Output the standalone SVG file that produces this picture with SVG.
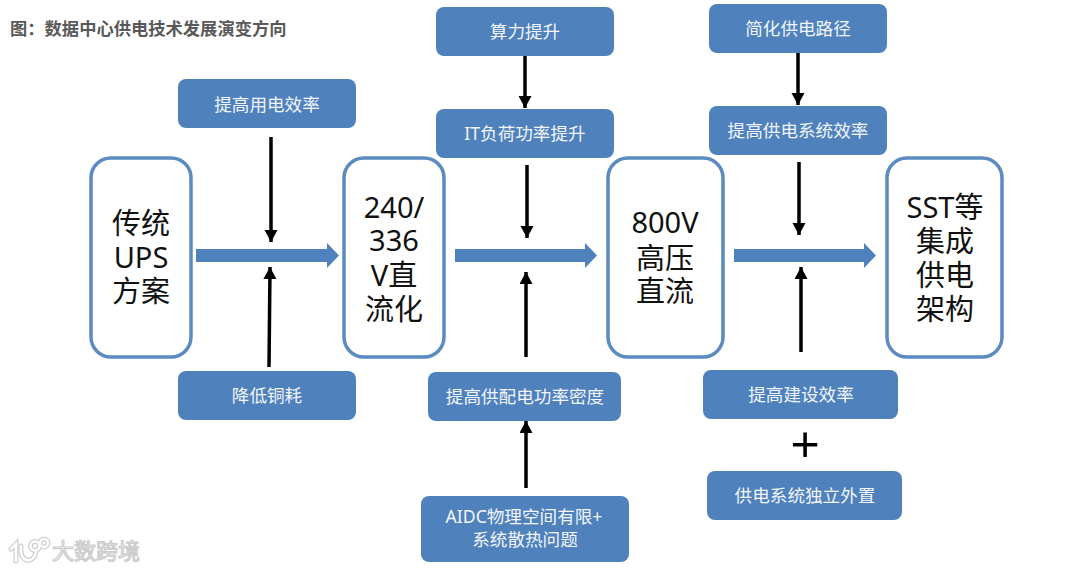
<svg xmlns="http://www.w3.org/2000/svg" width="1080" height="571" viewBox="0 0 1080 571">
<style>
text{font-family:"Noto Sans","Noto Sans CJK SC",sans-serif;text-anchor:middle}
.b rect{fill:#fff;stroke:#5b8bc0;stroke-width:3.5}
.b text{font-size:29px;fill:#111}
.s rect{fill:#4f81bd}
.s text{font-size:17.600px;fill:#f2f6fb}
.k{stroke:#000;stroke-width:3.5;fill:none}
.ar{fill:#4f81bd}
</style>
<defs>
<marker id="h" markerUnits="userSpaceOnUse" markerWidth="14" markerHeight="14" refX="12" refY="6.500" orient="auto"><path d="M0 0L12 6.500L0 13Z" fill="#000"/></marker>
</defs>
<rect width="1080" height="571" fill="#fff"/>
<text id="title" x="10" y="35" style="text-anchor:start;font-size:17.300px;font-weight:700;fill:#595959">图：数据中心供电技术发展演变方向</text>
<g id="n1" class="b"><rect x="91" y="158" width="100" height="199" rx="20"/><text><tspan x="141" y="234">传统</tspan><tspan x="141" y="268">UPS</tspan><tspan x="141" y="302">方案</tspan></text></g>
<g id="n2" class="b"><rect x="344" y="158" width="100" height="199" rx="20"/><text><tspan x="394" y="218">240/</tspan><tspan x="394" y="251">336</tspan><tspan x="394" y="286">V直</tspan><tspan x="394" y="320">流化</tspan></text></g>
<g id="n3" class="b"><rect x="608" y="158" width="115" height="199" rx="20"/><text><tspan x="665" y="233">800V</tspan><tspan x="665" y="269">高压</tspan><tspan x="665" y="302">直流</tspan></text></g>
<g id="n4" class="b"><rect x="887" y="158" width="115" height="199" rx="20"/><text><tspan x="945" y="218">SST等</tspan><tspan x="945" y="252">集成</tspan><tspan x="945" y="286">供电</tspan><tspan x="945" y="320">架构</tspan></text></g>
<g id="s1" class="s"><rect x="178" y="79" width="178" height="49" rx="8"/><text x="267" y="111">提高用电效率</text></g>
<g id="s2" class="s"><rect x="178" y="371" width="178" height="49" rx="8"/><text x="267" y="402">降低铜耗</text></g>
<g id="s3" class="s"><rect x="436" y="7" width="178" height="49" rx="8"/><text x="525" y="38">算力提升</text></g>
<g id="s4" class="s"><rect x="436" y="109" width="178" height="49" rx="8"/><text x="525" y="140">IT负荷功率提升</text></g>
<g id="s5" class="s"><rect x="428" y="372" width="193" height="49" rx="8"/><text x="525" y="403">提高供配电功率密度</text></g>
<g id="s6" class="s"><rect x="421" y="496" width="208" height="66" rx="8"/><text><tspan x="524" y="523">AIDC物理空间有限+</tspan><tspan x="525" y="546">系统散热问题</tspan></text></g>
<g id="s7" class="s"><rect x="709" y="4" width="178" height="49" rx="8"/><text x="798" y="35">简化供电路径</text></g>
<g id="s8" class="s"><rect x="709" y="106" width="178" height="49" rx="8"/><text x="798" y="137">提高供电系统效率</text></g>
<g id="s9" class="s"><rect x="703" y="370" width="195" height="49" rx="8"/><text x="801" y="401">提高建设效率</text></g>
<g id="s10" class="s"><rect x="707" y="471" width="195" height="49" rx="8"/><text x="805" y="502">供电系统独立外置</text></g>
<text id="plus" x="805" y="461" style="font-family:'Liberation Sans',sans-serif;font-size:50px;fill:#000">+</text>
<g id="connectors">
<path class="ar" d="M196 249H327V243L339 255.500L327 268V262H196Z"/>
<path class="ar" d="M455 249H585V243L597 255.500L585 268V262H455Z"/>
<path class="ar" d="M734 249H864V243L876 255.500L864 268V262H734Z"/>
<g class="k">
<path d="M271 137V242" marker-end="url(#h)"/>
<path d="M269 367L270 267" marker-end="url(#h)"/>
<path d="M525 56V108" marker-end="url(#h)"/>
<path d="M527 165V238" marker-end="url(#h)"/>
<path d="M526 357V272" marker-end="url(#h)"/>
<path d="M526 488V421" marker-end="url(#h)"/>
<path d="M798 53V105" marker-end="url(#h)"/>
<path d="M799 162V235" marker-end="url(#h)"/>
<path d="M801 352V267" marker-end="url(#h)"/>
</g>
</g>
<g id="watermark">
<g fill="none" stroke-linecap="round">
<g stroke="#cfcfcf" stroke-width="5"><path d="M11 549L16 544V561"/><path d="M21 546C19 564 34 564 36 552"/><circle cx="35" cy="546" r="4.500"/><circle cx="44" cy="543" r="4"/></g>
<g stroke="#fff" stroke-width="2.500"><path d="M11 549L16 544V561"/><path d="M21 546C19 564 34 564 36 552"/><circle cx="35" cy="546" r="4.500"/><circle cx="44" cy="543" r="4"/></g>
</g>
<text x="96" y="559" style="font-size:22px;fill:#fff;stroke:#cccccc;stroke-width:1.200">大数跨境</text>
</g>
</svg>
